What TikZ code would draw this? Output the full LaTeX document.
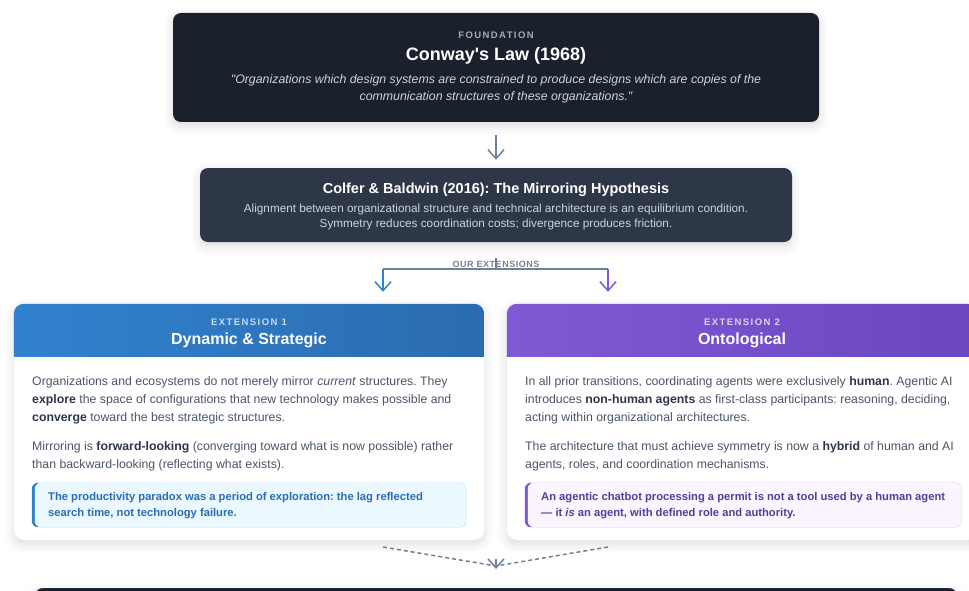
\documentclass[tikz,border=0pt]{standalone}
\usepackage{fontspec}
\setmainfont{Liberation Sans}[Ligatures=TeXOff]
\usetikzlibrary{arrows.meta,shadows.blur,positioning}
\frenchspacing

\definecolor{ink}{HTML}{1A202C}
\definecolor{slate}{HTML}{2D3748}
\definecolor{mute}{HTML}{718096}
\definecolor{faint}{HTML}{A0AEC0}
\definecolor{body}{HTML}{4A5568}
\definecolor{pale}{HTML}{CBD5E0}
\definecolor{blueA}{HTML}{3182CE}
\definecolor{blueB}{HTML}{2B6CB0}
\definecolor{blueL}{HTML}{EBF8FF}
\definecolor{purA}{HTML}{805AD5}
\definecolor{purB}{HTML}{6B46C1}
\definecolor{purD}{HTML}{553C9A}
\definecolor{purL}{HTML}{FAF5FF}

\def\fsz#1#2{\fontsize{#1}{#2}\selectfont}
\def\caps{\addfontfeature{LetterSpace=15}}
\def\bterm#1{{\bfseries\color{slate}#1}}

\begin{document}
\begin{tikzpicture}[x=1pt,y=-1pt,
  box/.style={rectangle,rounded corners=8pt,inner sep=0pt,
    blur shadow={shadow blur radius=10pt,shadow xshift=0pt,shadow yshift=-4pt,shadow opacity=14}},
  card/.style={box,fill=white,rounded corners=10pt,minimum width=470pt,minimum height=236pt},
  kicker/.style={font=\fsz{9.5}{11}\bfseries\caps},
  para/.style={anchor=west,align=left,inner sep=0pt,text=body,font=\fsz{12.3}{18}},
  note/.style={anchor=west,align=left,inner sep=0pt,font=\fsz{11.2}{16}\bfseries},
  arr/.style={-{Straight Barb[length=9pt,width=16pt]},line width=1.5pt}
]
\useasboundingbox (0,0) rectangle (969,591);
\clip (0,0) rectangle (969,591);

% foundation
\node [box,fill=ink,minimum width=646pt,minimum height=109pt] (found) at (496,67.5) {};
\node [kicker,text=faint] (foundK) at (496,35) {FOUNDATION};
\node [font=\fsz{18}{22}\bfseries,text=white] (foundT) at (496,56) {Conway's Law (1968)};
\node [font=\fsz{12.35}{17}\itshape,text=pale,align=center] (foundQ) at (496,89)
  {"Organizations which design systems are constrained to produce designs which are copies of the\\
   communication structures of these organizations."};

% mirroring hypothesis
\node [box,fill=slate,minimum width=592pt,minimum height=74pt] (mirror) at (496,205) {};
\node [font=\fsz{14.5}{17}\bfseries,text=white] (mirrorT) at (496,190)
  {Colfer \& Baldwin (2016): The Mirroring Hypothesis};
\node [font=\fsz{11.75}{15},text=pale,align=center] (mirrorS) at (496,216.5)
  {Alignment between organizational structure and technical architecture is an equilibrium condition.\\
   Symmetry reduces coordination costs; divergence produces friction.};
\draw [arr,mute,shorten <=13pt,shorten >=8pt] (found) -- (mirror);

% the two extension cards
\node [card] (ext1) at (249,422) {};
\node [card] (ext2) at (742,422) {};
\begin{scope}
\clip [rounded corners=10pt] (ext1.south west) rectangle (ext1.north east);
\shade [left color=blueA,right color=blueB] (ext1.north west) rectangle ([yshift=-53pt]ext1.north east);
\end{scope}
\begin{scope}
\clip [rounded corners=10pt] (ext2.south west) rectangle (ext2.north east);
\shade [left color=purA,right color=purB] (ext2.north west) rectangle ([yshift=-53pt]ext2.north east);
\end{scope}

\node [kicker,text=white!72!blueA] (ext1K) at (249,322) {EXTENSION 1};
\node [font=\fsz{16}{19}\bfseries,text=white] (ext1T) at (249,340) {Dynamic \& Strategic};
\node [para] (ext1P) at (32,400.5)
  {Organizations and ecosystems do not merely mirror \textit{current} structures. They\\
   \bterm{explore} the space of configurations that new technology makes possible and\\
   \bterm{converge} toward the best strategic structures.};
\node [para] (ext1Q) at (32,456)
  {Mirroring is \bterm{forward-looking} (converging toward what is now possible) rather\\
   than backward-looking (reflecting what exists).};

\node [kicker,text=white!72!purA] (ext2K) at (742,322) {EXTENSION 2};
\node [font=\fsz{16}{19}\bfseries,text=white] (ext2T) at (742,340) {Ontological};
\node [para] (ext2P) at (525,400.5)
  {In all prior transitions, coordinating agents were exclusively \bterm{human}. Agentic AI\\
   introduces \bterm{non-human agents} as first-class participants: reasoning, deciding,\\
   acting within organizational architectures.};
\node [para] (ext2Q) at (525,456)
  {The architecture that must achieve symmetry is now a \bterm{hybrid} of human and AI\\
   agents, roles, and coordination mechanisms.};

% callouts, coloured bar on the left
\node [inner sep=0pt,minimum width=434pt,minimum height=44pt] (ext1N) at (249,505) {};
\fill [blueA,rounded corners=6pt] (ext1N.south west) rectangle (ext1N.north east);
\fill [blueL,rounded corners=6pt] ([xshift=3pt]ext1N.south west) rectangle (ext1N.north east);
\node [note,text=blueB] (ext1NT) at (48,506)
  {The productivity paradox was a period of exploration: the lag reflected\\
   search time, not technology failure.};

\node [inner sep=0pt,minimum width=436pt,minimum height=44pt] (ext2N) at (743,505) {};
\fill [purA,rounded corners=6pt] (ext2N.south west) rectangle (ext2N.north east);
\fill [purL,rounded corners=6pt] ([xshift=3pt]ext2N.south west) rectangle (ext2N.north east);
\node [note,text=purD] (ext2NT) at (541,506)
  {An agentic chatbot processing a permit is not a tool used by a human agent\\
   — it \textit{is} an agent, with defined role and authority.};

% fork into the extensions
\coordinate (fork) at (496,269);
\coordinate (forkL) at (383,269);
\coordinate (forkR) at (608,269);
\draw [mute,line width=2pt,shorten <=16pt] (mirror) -- (fork);
\draw [mute,line width=2pt] (forkL) -- (forkR);
\node [font=\fsz{9}{10}\bfseries\addfontfeature{LetterSpace=6},text=mute] (ourExt) at (496,264.5) {OUR EXTENSIONS};
\draw [arr,blueA,shorten >=12pt] (forkL) -- (forkL |- ext1.north);
\draw [arr,purA,shorten >=12pt] (forkR) -- (forkR |- ext2.north);

% bottom box, only its top shows
\node [box,fill=ink,draw=slate,minimum width=922pt,minimum height=120pt,anchor=north] (synth) at (496,588) {};

% dashed merge down to it
\coordinate (outL) at (383,547);
\coordinate (outR) at (608,547);
\coordinate (merge) at (496,566);
\draw [mute,line width=1.5pt,dash pattern=on 4pt off 3pt] (outL) -- (merge);
\draw [mute,line width=1.5pt,dash pattern=on 4pt off 3pt] (outR) -- (merge);
\draw [arr,mute,shorten >=19pt] ([yshift=7pt]merge) -- (merge |- synth.north);
\end{tikzpicture}
\end{document}
